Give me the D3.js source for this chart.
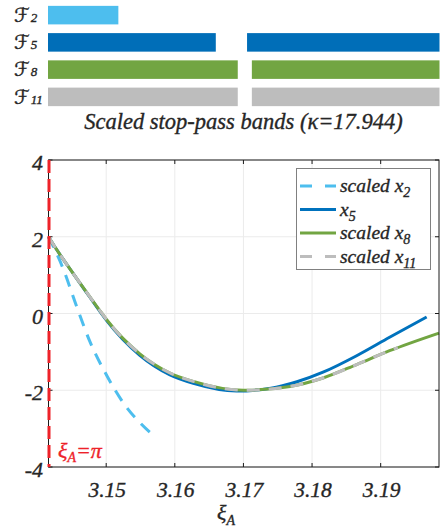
<!DOCTYPE html>
<html>
<head>
<meta charset="utf-8">
<script src="https://cdn.jsdelivr.net/npm/d3@7"></script>
<style>
  html, body { margin: 0; padding: 0; background: #fff; }
  svg { display: block; }
  text { stroke-width: 0.35px; paint-order: stroke; }
</style>
</head>
<body>
<svg id="chart" width="441" height="530"></svg>
<script>
// ---- top panel: stop-pass bands ----
const bandSubs = ['2', '5', '8', '11'];
const bandColors = ['#4dbeee', '#006eb8', '#72a542', '#bdbdbd'];
const bandIntervals = [
  [[Math.PI, 3.1517]],
  [[Math.PI, 3.1659], [3.1706, 3.1985]],
  [[Math.PI, 3.1691], [3.1713, 3.1985]],
  [[Math.PI, 3.1691], [3.1713, 3.1985]]
];
const bandTitle = 'Scaled stop-pass bands (κ=17.944)';

// ---- bottom panel: curves ----
const xi2 = [Math.PI, 3.1437, 3.1457, 3.1476, 3.1501, 3.1527, 3.1550, 3.1568];
const val2 = [2.0, 1.18, 0.18, -0.72, -1.62, -2.38, -2.86, -3.16];

const xi5 = [Math.PI, 3.1428, 3.1452, 3.1476, 3.1491, 3.1501, 3.1549, 3.1593, 3.1627, 3.1690, 3.1740, 3.1778, 3.1816, 3.1865, 3.1913, 3.1967];
const val5 = [2.0, 1.66, 1.04, 0.43, 0.05, -0.19, -1.09, -1.60, -1.82, -2.02, -1.95, -1.78, -1.53, -1.10, -0.62, -0.09];

const xi8 = [Math.PI, 3.1428, 3.1452, 3.1476, 3.1491, 3.1501, 3.1549, 3.1593, 3.1627, 3.1700, 3.1768, 3.1816, 3.1865, 3.1913, 3.1985];
const val8 = [2.0, 1.66, 1.04, 0.44, 0.07, -0.17, -1.05, -1.55, -1.77, -2.0, -1.90, -1.68, -1.33, -0.97, -0.51];

const xi11 = [Math.PI, 3.1428, 3.1452, 3.1476, 3.1491, 3.1501, 3.1549, 3.1593, 3.1627, 3.1700, 3.1768, 3.1816, 3.1865, 3.1913, 3.1925];
const val11 = [2.0, 1.66, 1.04, 0.44, 0.07, -0.17, -1.05, -1.55, -1.77, -2.0, -1.90, -1.68, -1.33, -0.97, -0.89];

const xTicks = [3.15, 3.16, 3.17, 3.18, 3.19];
const yTicks = [-4, -2, 0, 2, 4];

const series = [
  { pre: 'scaled ', sub: '2', xi: xi2, val: val2, color: '#4dbeee', dash: '12,9' },
  { pre: '', sub: '5', xi: xi5, val: val5, color: '#0072bd', dash: null },
  { pre: 'scaled ', sub: '8', xi: xi8, val: val8, color: '#72a542', dash: null },
  { pre: 'scaled ', sub: '11', xi: xi11, val: val11, color: '#bdbdbd', dash: '13,9' }
];

const FONT = "'Liberation Serif', 'DejaVu Serif', serif";
const TEXT = '#262626';
const RED = '#ee2229';

const svg = d3.select('#chart');

const plot = { left: 48.5, right: 439, top: 160, bottom: 467 };

const x = d3.scaleLinear()
  .domain([Math.PI, 3.1985])
  .range([plot.left, plot.right]);

const y = d3.scaleLinear()
  .domain([-4, 4])
  .range([plot.bottom, plot.top]);

// band rows
const band = d3.scaleBand()
  .domain(bandSubs)
  .range([1.5, 110.5])
  .paddingInner(0.32)
  .paddingOuter(0.16);

const bands = svg.append('g').attr('class', 'bands');

bandSubs.forEach((s, i) => {
  bands.selectAll(null)
    .data(bandIntervals[i])
    .join('rect')
    .attr('x', d => x(d[0]) - 0.5)
    .attr('y', band(s))
    .attr('width', d => x(d[1]) - x(d[0]) + 1)
    .attr('height', band.bandwidth())
    .attr('fill', bandColors[i]);

  const lbl = bands.append('text')
    .attr('x', 14)
    .attr('y', band(s) + band.bandwidth() - 2.5)
    .attr('fill', TEXT)
    .attr('stroke', TEXT)
    .style('font-family', FONT);
  lbl.append('tspan')
    .style('font-family', "'DejaVu Serif', 'DejaVu Sans', serif")
    .style('font-style', 'italic')
    .style('font-size', '20px')
    .text('\u2131');
  lbl.append('tspan')
    .attr('dx', 1)
    .style('font-style', 'italic')
    .style('font-size', '13px')
    .text(s);
});

bands.append('text')
  .attr('x', 243.5)
  .attr('y', 129)
  .attr('text-anchor', 'middle')
  .attr('fill', TEXT)
  .attr('stroke', TEXT)
  .style('font-family', FONT)
  .style('font-style', 'italic')
  .style('font-size', '22.5px')
  .text(bandTitle);

// grid
const grid = svg.append('g').attr('class', 'grid');
grid.selectAll('.gx')
  .data(xTicks)
  .join('line')
  .attr('x1', d => x(d)).attr('x2', d => x(d))
  .attr('y1', plot.top).attr('y2', plot.bottom)
  .attr('stroke', '#ebebeb').attr('stroke-width', 1);
grid.selectAll('.gy')
  .data(yTicks)
  .join('line')
  .attr('x1', plot.left).attr('x2', plot.right)
  .attr('y1', d => y(d)).attr('y2', d => y(d))
  .attr('stroke', '#ebebeb').attr('stroke-width', 1);

// curves
const curves = svg.append('g').attr('class', 'curves');
const line = d3.line()
  .x(d => x(d[0]))
  .y(d => y(d[1]))
  .curve(d3.curveMonotoneX);

series.forEach(s => {
  curves.append('path')
    .datum(d3.zip(s.xi, s.val))
    .attr('d', line)
    .attr('fill', 'none')
    .attr('stroke', s.color)
    .attr('stroke-width', 3)
    .attr('stroke-dasharray', s.dash);
});

// axes box with inward ticks
const axes = svg.append('g').attr('class', 'axes');
axes.append('rect')
  .attr('x', plot.left).attr('y', plot.top)
  .attr('width', plot.right - plot.left)
  .attr('height', plot.bottom - plot.top)
  .attr('fill', 'none')
  .attr('stroke', '#1a1a1a')
  .attr('stroke-width', 1);

xTicks.forEach(t => {
  axes.append('line')
    .attr('x1', x(t)).attr('x2', x(t))
    .attr('y1', plot.bottom).attr('y2', plot.bottom - 4)
    .attr('stroke', '#1a1a1a');
  axes.append('line')
    .attr('x1', x(t)).attr('x2', x(t))
    .attr('y1', plot.top).attr('y2', plot.top + 4)
    .attr('stroke', '#1a1a1a');
});
yTicks.forEach(t => {
  axes.append('line')
    .attr('x1', plot.left).attr('x2', plot.left + 4)
    .attr('y1', y(t)).attr('y2', y(t))
    .attr('stroke', '#1a1a1a');
  axes.append('line')
    .attr('x1', plot.right).attr('x2', plot.right - 4)
    .attr('y1', y(t)).attr('y2', y(t))
    .attr('stroke', '#1a1a1a');
});

axes.selectAll('.xl')
  .data(xTicks)
  .join('text')
  .attr('x', d => x(d) + 1)
  .attr('y', 497)
  .attr('text-anchor', 'middle')
  .attr('fill', TEXT)
  .attr('stroke', TEXT)
  .style('font-family', FONT)
  .style('font-style', 'italic')
  .style('font-size', '21.5px')
  .text(d => d3.format('.2f')(d));

axes.selectAll('.yl')
  .data(yTicks)
  .join('text')
  .attr('x', 43)
  .attr('y', d => y(d) + 10)
  .attr('text-anchor', 'end')
  .attr('fill', TEXT)
  .attr('stroke', TEXT)
  .style('font-family', FONT)
  .style('font-style', 'italic')
  .style('font-size', '22px')
  .text(d => d < 0 ? '-' + Math.abs(d) : String(d));

// x label
const xl = axes.append('text')
  .attr('x', 217)
  .attr('y', 520)
  .attr('fill', TEXT)
  .attr('stroke', TEXT)
  .style('font-family', FONT)
  .style('font-style', 'italic')
  .style('font-size', '22px');
xl.append('tspan').text('ξ');
xl.append('tspan').attr('dy', 5).style('font-size', '14px').text('A');

// red reference line at ξ_A = π
svg.append('line')
  .attr('x1', x(Math.PI) + 0.5).attr('x2', x(Math.PI) + 0.5)
  .attr('y1', plot.top).attr('y2', plot.bottom)
  .attr('stroke', RED)
  .attr('stroke-width', 3)
  .attr('stroke-dasharray', '13,6');

const rl = svg.append('text')
  .attr('x', 58)
  .attr('y', 458)
  .attr('fill', RED)
  .attr('stroke', RED)
  .style('font-family', FONT)
  .style('font-style', 'italic')
  .style('font-size', '22px');
rl.append('tspan').text('ξ');
rl.append('tspan').attr('dy', 4).style('font-size', '14px').text('A');
rl.append('tspan').attr('dy', -4).text('=π');

// legend
const legend = svg.append('g').attr('class', 'legend');
legend.append('rect')
  .attr('x', 296.5).attr('y', 168.5)
  .attr('width', 134).attr('height', 101)
  .attr('fill', '#fff')
  .attr('stroke', '#808080')
  .attr('stroke-width', 1);

series.forEach((s, i) => {
  const ly = 186 + i * 23.5;
  legend.append('line')
    .attr('x1', 300).attr('x2', 336)
    .attr('y1', ly).attr('y2', ly)
    .attr('stroke', s.color)
    .attr('stroke-width', 3)
    .attr('stroke-dasharray', s.dash ? '12,13' : null);
  const t = legend.append('text')
    .attr('x', 340)
    .attr('y', ly + 6)
    .attr('fill', TEXT)
    .attr('stroke', TEXT)
    .style('font-family', FONT)
    .style('font-style', 'italic')
    .style('font-size', '19.5px');
  t.append('tspan').text(s.pre + 'x');
  t.append('tspan').attr('dy', 5).style('font-size', '14px').text(s.sub);
});
</script>
</body>
</html>
